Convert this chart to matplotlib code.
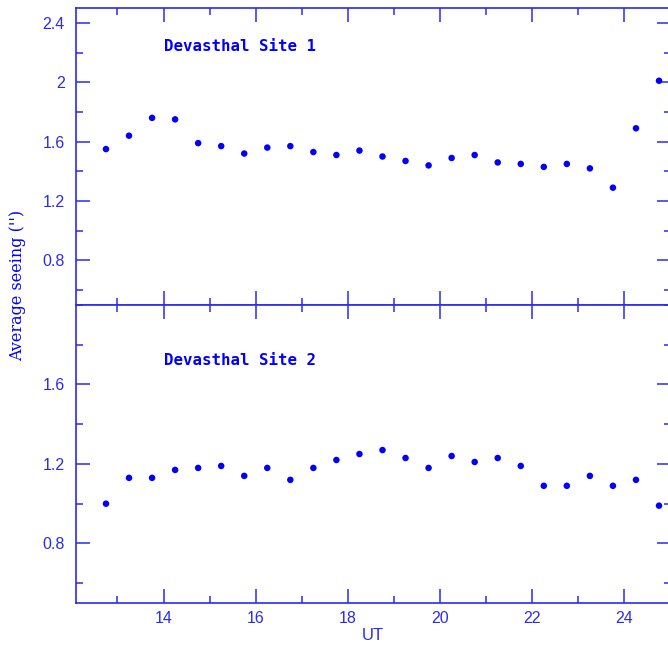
import matplotlib
matplotlib.use("Agg")
import matplotlib.pyplot as plt
from matplotlib.ticker import MultipleLocator, FuncFormatter

# UT hours (bin centres)
ut = [12.75, 13.25, 13.75, 14.25, 14.75, 15.25, 15.75, 16.25, 16.75,
      17.25, 17.75, 18.25, 18.75, 19.25, 19.75, 20.25, 20.75, 21.25,
      21.75, 22.25, 22.75, 23.25, 23.75, 24.25, 24.75]

# average seeing (arcsec)
site1 = [1.55, 1.64, 1.76, 1.75, 1.59, 1.57, 1.52, 1.56, 1.57,
         1.53, 1.51, 1.54, 1.50, 1.47, 1.44, 1.49, 1.51, 1.46,
         1.45, 1.43, 1.45, 1.42, 1.29, 1.69, 2.01]
site2 = [1.00, 1.13, 1.13, 1.17, 1.18, 1.19, 1.14, 1.18, 1.12,
         1.18, 1.22, 1.25, 1.27, 1.23, 1.18, 1.24, 1.21, 1.23,
         1.19, 1.09, 1.09, 1.14, 1.09, 1.12, 0.99]

labels = ["Devasthal Site 1", "Devasthal Site 2"]

blue = "#0000ff"
axcol = "#2a2af5"

plt.rcParams['font.family'] = ['Liberation Sans', 'DejaVu Sans']

fig = plt.figure(figsize=(6.68, 6.48), dpi=100)
ax1 = fig.add_axes([0.1138, 0.5293, 0.89, 0.4584])
ax2 = fig.add_axes([0.1138, 0.0694, 0.89, 0.4599])


def fmt(v, pos):
    s = "%.1f" % v
    if s.endswith(".0"):
        s = s[:-2]
    return s


for ax, vals, lab, ylim, ty in [(ax1, site1, labels[0], (0.5, 2.5), 2.24),
                                (ax2, site2, labels[1], (0.5, 2.0), 1.72)]:
    ax.scatter(ut, vals, s=22, color=blue, edgecolors='none', zorder=3, clip_on=False)
    ax.set_xlim(12.1, 25.0)
    ax.set_ylim(*ylim)
    ax.xaxis.set_major_locator(MultipleLocator(2))
    ax.xaxis.set_minor_locator(MultipleLocator(1))
    ax.yaxis.set_major_locator(MultipleLocator(0.4))
    ax.yaxis.set_minor_locator(MultipleLocator(0.2))
    ax.yaxis.set_major_formatter(FuncFormatter(fmt))
    ax.tick_params(which='both', direction='in', top=True, right=True,
                   color=axcol, labelcolor=axcol, labelsize=11.5, width=1.1, pad=8)
    ax.tick_params(which='major', length=10)
    ax.tick_params(which='minor', length=5)
    for sp in ax.spines.values():
        sp.set_color(axcol)
        sp.set_linewidth(1.2)
    ax.text(14.0, ty, lab, color=blue,
            fontsize=11.3, fontweight='bold', family='DejaVu Sans Mono',
            va='center', ha='left')

# hide values that sit on the shared boundary
ax1.set_yticks([0.8, 1.2, 1.6, 2.0, 2.4])
ax2.set_yticks([0.8, 1.2, 1.6])
ax1.tick_params(labelbottom=False)
ax2.tick_params(axis='x', pad=6)
ax2.set_xlabel("UT", color=axcol, fontsize=12, labelpad=1)

fig.text(0.026, 1 - 285 / 648, "Average seeing ('')", rotation=90,
         color=blue, fontsize=11.5, family='DejaVu Serif',
         ha='center', va='center')

fig.savefig("out.png", dpi=100)
